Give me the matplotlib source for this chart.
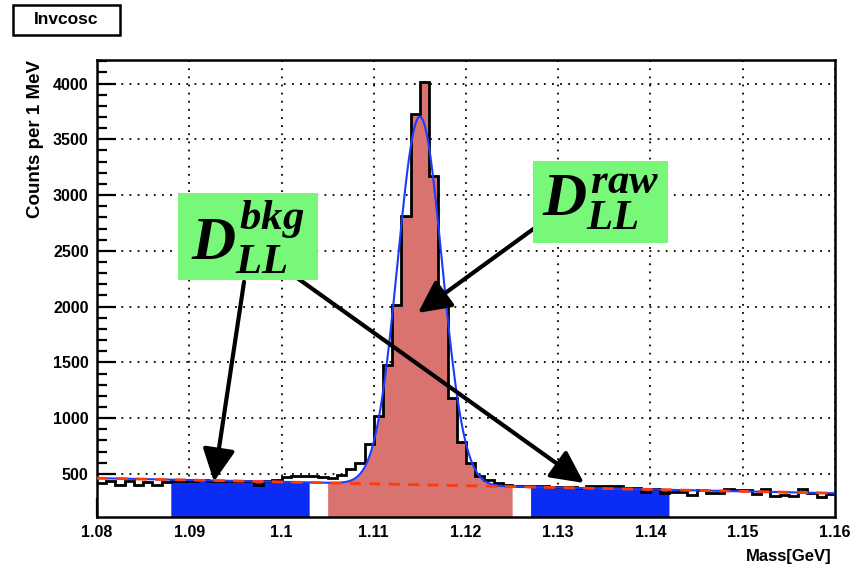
#!/usr/bin/env python3
"""Invariant mass histogram with signal window and sideband regions."""

from __future__ import annotations

import numpy as np
import matplotlib

matplotlib.use("Agg")
import matplotlib.pyplot as plt
from matplotlib.patches import Rectangle
from matplotlib.ticker import MultipleLocator

# Histogram: 1 MeV bins from 1.080 to 1.160 GeV
BIN_LO = 1.080
BIN_WIDTH = 0.001
COUNTS = [
    420, 440, 400, 435, 405, 430, 398, 432, 440, 438,
    440, 442, 438, 440, 436, 438, 434, 405, 440, 445,
    470, 478, 480, 482, 470, 462, 490, 540, 596, 770,
    1015, 1478, 2017, 2810, 3729, 4016, 3175, 2002, 1180, 790,
    600, 480, 445, 420, 400, 395, 392, 390, 388, 386,
    384, 386, 371, 392, 392, 392, 392, 378, 372, 341,
    368, 327, 341, 341, 311, 356, 327, 327, 365, 356,
    356, 320, 365, 302, 311, 302, 365, 329, 293, 320,
]

# Gaussian peak on a linear background
FIT_AMP = 3300.0
FIT_MEAN = 1.1150
FIT_SIGMA = 0.0024
BKG_AT_LO = 462.0
BKG_SLOPE = -1687.5

# Mass windows (GeV)
SIDEBAND_LEFT = (1.088, 1.103)
SIGNAL_WINDOW = (1.105, 1.125)
SIDEBAND_RIGHT = (1.127, 1.142)
CORE_BINS = (31, 38)  # bins whose fill follows the histogram itself

X_TICK_LABELS = ["1.08", "1.09", "1.1", "1.11", "1.12", "1.13", "1.14", "1.15", "1.16"]
Y_TICKS = [500, 1000, 1500, 2000, 2500, 3000, 3500, 4000]

BLUE_FILL = "#0a2cf5"
RED_FILL = "#d9736f"
BOX_GREEN = "#78f878"


def background(x):
    return BKG_AT_LO + BKG_SLOPE * (x - BIN_LO)


def fit_curve(x):
    return FIT_AMP * np.exp(-0.5 * ((x - FIT_MEAN) / FIT_SIGMA) ** 2) + background(x)


def hist_at(x, counts):
    idx = np.clip(((x - BIN_LO) / BIN_WIDTH + 1e-9).astype(int), 0, len(counts) - 1)
    return counts[idx]


def main() -> int:
    plt.rcParams["font.family"] = ["Liberation Sans", "DejaVu Sans"]
    plt.rcParams["font.weight"] = "bold"
    plt.rcParams["mathtext.fontset"] = "custom"
    plt.rcParams["mathtext.it"] = "Liberation Serif:italic:bold"
    plt.rcParams["mathtext.rm"] = "Liberation Serif:bold"
    plt.rcParams["mathtext.bf"] = "Liberation Serif:italic:bold"

    counts = np.array(COUNTS, dtype=float)
    edges = BIN_LO + BIN_WIDTH * np.arange(len(counts) + 1)
    x_lo, x_hi = edges[0], edges[-1]

    fig = plt.figure(figsize=(8.57, 5.71), dpi=100)
    ax = fig.add_axes([0.1132, 0.0946, 0.8611, 0.8003])

    # white body under the histogram hides the grid
    ax.stairs(counts, edges, baseline=0, fill=True, color="white", zorder=1)

    # sidebands: area under the fitted curve
    for lo, hi in (SIDEBAND_LEFT, SIDEBAND_RIGHT):
        xs = np.linspace(lo, hi, 300)
        ax.fill_between(xs, 0, fit_curve(xs), color=BLUE_FILL, lw=0, zorder=2)

    # signal window
    xs = np.linspace(SIGNAL_WINDOW[0], SIGNAL_WINDOW[1] - 1e-7, 2000)
    h = hist_at(xs, counts)
    bin_idx = ((xs - BIN_LO) / BIN_WIDTH + 1e-9).astype(int)
    core = (bin_idx >= CORE_BINS[0]) & (bin_idx <= CORE_BINS[1])
    top = np.where(core, h, np.minimum(h, fit_curve(xs)))
    ax.fill_between(xs, 0, top, color=RED_FILL, lw=0, zorder=2)

    ax.stairs(counts, edges, baseline=None, color="black", lw=2.0, zorder=3)

    xf = np.linspace(x_lo, x_hi, 800)
    ax.plot(xf, fit_curve(xf), color="#1a3cff", lw=1.5, zorder=4)
    ax.plot(xf, background(xf), color="#ff3a10", lw=2.0,
            dashes=(4, 3), zorder=5)

    ax.set_xlim(x_lo, x_hi)
    ax.set_ylim(114, 4211)
    ax.set_xticks(np.round(np.arange(x_lo, x_hi + 1e-9, 0.01), 3))
    ax.set_xticklabels(X_TICK_LABELS)
    ax.set_yticks(Y_TICKS)
    ax.xaxis.set_minor_locator(MultipleLocator(0.002))
    ax.yaxis.set_minor_locator(MultipleLocator(100))
    ax.tick_params(which="both", direction="in", top=False, right=False,
                   width=1.6, labelsize=11.5)
    ax.tick_params(which="major", length=14)
    ax.tick_params(which="minor", length=7)
    ax.tick_params(axis="x", pad=6)
    ax.tick_params(axis="y", pad=6)
    for lbl in ax.get_xticklabels() + ax.get_yticklabels():
        lbl.set_fontweight("bold")
    for sp in ax.spines.values():
        sp.set_linewidth(1.8)

    ax.set_axisbelow(True)
    ax.grid(True, which="major", color="black", lw=1.3,
            linestyle=(0, (1, 3.5)), zorder=0)

    # labelled boxes with arrows
    arrow = dict(arrowstyle="-|>,head_length=0.6,head_width=0.3",
                 lw=3, color="black", mutation_scale=33,
                 shrinkA=0, shrinkB=0)
    ax.annotate("", xy=(1.09268, 431), xytext=(1.09594, 2222),
                arrowprops=arrow, zorder=6)
    ax.annotate("", xy=(1.13279, 419), xytext=(1.10168, 2258),
                arrowprops=arrow, zorder=6)
    ax.annotate("", xy=(1.11480, 1944), xytext=(1.12748, 2707),
                arrowprops=arrow, zorder=6)

    ax.add_patch(Rectangle((1.08878, 2241), 1.10396 - 1.08878, 3022 - 2241,
                           color=BOX_GREEN, lw=0, zorder=7))
    ax.add_patch(Rectangle((1.12726, 2571), 1.14190 - 1.12726, 3307 - 2571,
                           color=BOX_GREEN, lw=0, zorder=7))
    ax.text(1.09637, 2631, r"$D^{bkg}_{LL}$", fontsize=44,
            ha="center", va="center", zorder=8)
    ax.text(1.13458, 2941, r"$D^{raw}_{LL}$", fontsize=44,
            ha="center", va="center", zorder=8)

    fig.text(0.041, 0.895, "Counts per 1 MeV", rotation=90, ha="center",
             va="top", fontsize=13.5, fontweight="bold")
    fig.text(0.970, 0.026, "Mass[GeV]", ha="right", va="center",
             fontsize=12, fontweight="bold")

    fig.patches.append(Rectangle((0.0152, 0.939), 0.125, 0.052,
                                 transform=fig.transFigure, fill=False,
                                 ec="black", lw=1.8))
    fig.text(0.077, 0.965, "Invcosc", ha="center", va="center",
             fontsize=12.5, fontweight="bold")

    fig.savefig("out.png", dpi=100)
    return 0


if __name__ == "__main__":
    raise SystemExit(main())
